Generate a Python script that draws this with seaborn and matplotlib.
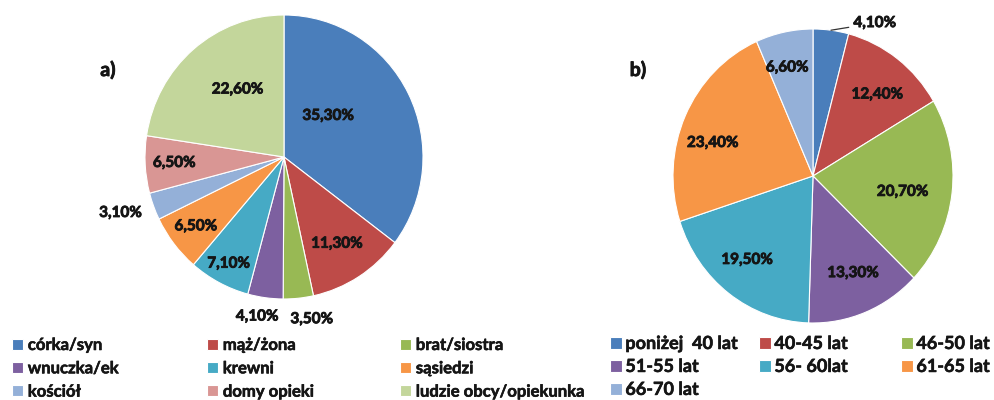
import numpy as np
import matplotlib
matplotlib.use("Agg")
import matplotlib.pyplot as plt
import matplotlib.patheffects as pe
import seaborn as sns

# --- data -------------------------------------------------------------
care_labels = ["córka/syn", "mąż/żona", "brat/siostra", "wnuczka/ek", "krewni",
               "sąsiedzi", "kościół", "domy opieki", "ludzie obcy/opiekunka"]
care_values = [35.3, 11.3, 3.5, 4.1, 7.1, 6.5, 3.1, 6.5, 22.6]

age_labels = ["poniżej  40 lat", "40-45 lat", "46-50 lat", "51-55 lat",
              "56- 60lat", "61-65 lat", "66-70 lat"]
age_values = [4.1, 12.4, 20.7, 13.3, 19.5, 23.4, 6.6]

care_colors = ["#4A7EBB", "#BE4B48", "#98B954", "#7D60A0", "#46AAC5",
               "#F79646", "#94B0D8", "#D99694", "#C3D69B"]
age_colors = ["#4A7EBB", "#BE4B48", "#98B954", "#7D60A0", "#46AAC5",
              "#F79646", "#94B0D8"]

# label placement: radial factor and angular nudge (deg) per wedge
care_lab_r = [0.43, 0.72, 1.16, 1.14, 0.85, 0.80, 1.24, 0.79, 0.58]
care_lab_da = [15.8, -0.6, 4.0, -2.0, 0.0, 0.0, -1.8, 0.0, -5.7]
age_lab_r = [1.13, 0.72, 0.65, 0.72, 0.74, 0.75, 0.76]
age_lab_da = [-15.6, -2.6, -2.9, 1.3, -2.6, 6.7, 2.1]

sns.set_theme(style="white")
plt.rcParams["font.family"] = ["Lato", "DejaVu Sans"]

W, H = 995, 400
TXT = "#151515"
WEIGHT = "bold"
# a thin outline in the text colour makes the bold glyphs a bit heavier
THICK = [pe.withStroke(linewidth=0.6, foreground=TXT)]
fig = plt.figure(figsize=(W / 100, H / 100), dpi=100)


def px_axes(left, top, width, height):
    return fig.add_axes([left / W, 1 - (top + height) / H, width / W, height / H])


def fmt(v):
    return f"{v:.2f}".replace(".", ",") + "%"


def draw_pie(ax, values, colors, lab_r, lab_da, leader=None):
    wedges, _ = ax.pie(values, colors=colors, startangle=90, counterclock=False,
                       wedgeprops=dict(edgecolor="white", linewidth=0.8))
    ax.set_aspect("auto")
    ax.set_xlim(-1, 1)
    ax.set_ylim(-1, 1)
    for i, (w, v) in enumerate(zip(wedges, values)):
        phi = np.deg2rad((w.theta1 + w.theta2) / 2 + lab_da[i])
        x, y = lab_r[i] * np.cos(phi), lab_r[i] * np.sin(phi)
        if leader is not None and i == leader:
            mid = np.deg2rad((w.theta1 + w.theta2) / 2)
            t = ax.annotate(fmt(v), xy=(np.cos(mid), np.sin(mid)), xytext=(x, y),
                            ha="center", va="center", fontsize=11,
                            fontweight=WEIGHT, color=TXT, annotation_clip=False,
                            arrowprops=dict(arrowstyle="-", color="#333333",
                                            lw=0.9, shrinkA=1, shrinkB=0))
        else:
            t = ax.text(x, y, fmt(v), ha="center", va="center", fontsize=11,
                        fontweight=WEIGHT, color=TXT, clip_on=False)
        t.set_path_effects(THICK)
    return wedges


ax_a = px_axes(145, 15, 278, 284)
wa = draw_pie(ax_a, care_values, care_colors, care_lab_r, care_lab_da)
ax_b = px_axes(673, 29, 280, 294)
wb = draw_pie(ax_b, age_values, age_colors, age_lab_r, age_lab_da, leader=0)

for xp, s in [(108, "a)"), (638, "b)")]:
    fig.text(xp / W, 1 - 70 / H, s, fontsize=14, fontweight=WEIGHT,
             ha="center", va="center", color=TXT, path_effects=THICK)


def column_legend(handles, labels, x, y, fontsize, spacing, pad):
    leg = fig.legend(handles, labels, loc="upper left",
                     bbox_to_anchor=(x / W, 1 - y / H), frameon=False,
                     handlelength=0.65, handleheight=0.65,
                     handletextpad=pad, labelspacing=spacing, borderpad=0,
                     borderaxespad=0, prop=dict(weight=WEIGHT, size=fontsize))
    for t in leg.get_texts():
        t.set_color(TXT)
        t.set_path_effects([pe.withStroke(linewidth=0.4, foreground=TXT)])
    return leg


# legend for a): three columns, filled row by row
for c, x in enumerate([12, 207, 400]):
    idx = list(range(c, len(care_labels), 3))
    column_legend([wa[i] for i in idx], [care_labels[i] for i in idx], x, 337,
                  12, 0.44, 0.3)

# legend for b)
for c, x in enumerate([610, 759, 901]):
    idx = list(range(c, len(age_labels), 3))
    column_legend([wb[i] for i in idx], [age_labels[i] for i in idx], x, 335,
                  13, 0.33, 0.2)

fig.savefig("out.png", dpi=100, facecolor="white")
